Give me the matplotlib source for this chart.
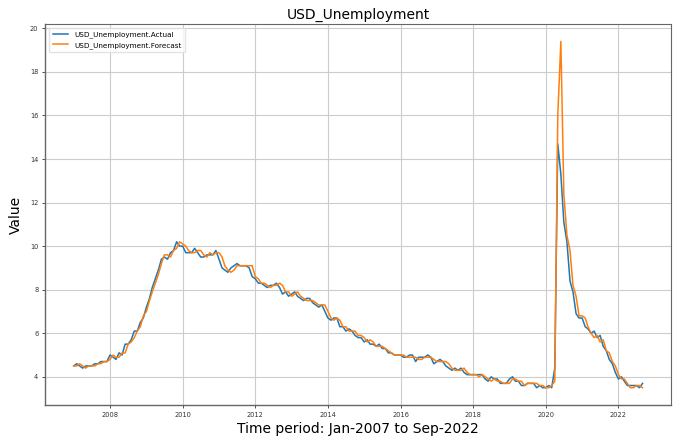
import matplotlib
matplotlib.use("Agg")
import matplotlib.pyplot as plt
import pandas as pd

# Monthly release dates, Jan 2007 .. Sep 2022
dates = pd.date_range("2007-01-01", "2022-09-01", freq="MS")

actual = [
    4.5, 4.6, 4.5, 4.4, 4.5, 4.5, 4.5, 4.6, 4.6, 4.7, 4.7, 4.7,       # 2007
    5.0, 4.9, 4.8, 5.1, 5.0, 5.5, 5.5, 5.7, 6.1, 6.1, 6.5, 6.7,       # 2008
    7.2, 7.6, 8.1, 8.5, 8.9, 9.4, 9.5, 9.4, 9.7, 9.8, 10.2, 10.0,     # 2009
    10.0, 9.7, 9.7, 9.7, 9.9, 9.7, 9.5, 9.5, 9.6, 9.6, 9.6, 9.8,      # 2010
    9.4, 9.0, 8.9, 8.8, 9.0, 9.1, 9.2, 9.1, 9.1, 9.1, 9.0, 8.6,       # 2011
    8.5, 8.3, 8.3, 8.2, 8.1, 8.2, 8.2, 8.3, 8.1, 7.8, 7.9, 7.7,       # 2012
    7.8, 7.9, 7.7, 7.6, 7.5, 7.6, 7.6, 7.4, 7.3, 7.2, 7.3, 7.0,       # 2013
    6.7, 6.6, 6.7, 6.7, 6.3, 6.3, 6.1, 6.2, 6.1, 5.9, 5.8, 5.8,       # 2014
    5.6, 5.7, 5.5, 5.5, 5.4, 5.5, 5.3, 5.3, 5.1, 5.1, 5.0, 5.0,       # 2015
    5.0, 4.9, 4.9, 5.0, 5.0, 4.7, 4.9, 4.9, 4.9, 5.0, 4.9, 4.6,       # 2016
    4.7, 4.8, 4.7, 4.5, 4.4, 4.3, 4.4, 4.3, 4.4, 4.2, 4.1, 4.1,       # 2017
    4.1, 4.1, 4.1, 4.1, 3.9, 3.8, 4.0, 3.9, 3.9, 3.7, 3.7, 3.7,       # 2018
    3.9, 4.0, 3.8, 3.8, 3.6, 3.6, 3.7, 3.7, 3.7, 3.5, 3.6, 3.5,       # 2019
    3.5, 3.6, 3.5, 4.4, 14.7, 13.3, 11.1, 10.2, 8.4, 7.9, 6.9, 6.7,   # 2020
    6.7, 6.3, 6.2, 6.0, 6.1, 5.8, 5.9, 5.4, 5.2, 4.8, 4.6, 4.2,       # 2021
    3.9, 4.0, 3.8, 3.6, 3.6, 3.6, 3.6, 3.5, 3.7,                      # 2022
]

forecast = [
    4.5, 4.5, 4.6, 4.5, 4.4, 4.5, 4.5, 4.5, 4.6, 4.6, 4.7, 4.7,       # 2007
    4.8, 5.0, 4.9, 4.9, 5.1, 5.1, 5.5, 5.6, 5.8, 6.1, 6.3, 6.8,       # 2008
    7.0, 7.5, 7.9, 8.3, 8.7, 9.2, 9.6, 9.6, 9.5, 9.8, 9.9, 10.2,      # 2009
    10.1, 10.0, 9.8, 9.7, 9.7, 9.8, 9.8, 9.6, 9.5, 9.7, 9.6, 9.7,     # 2010
    9.7, 9.5, 9.1, 8.9, 8.8, 8.9, 9.1, 9.1, 9.1, 9.1, 9.1, 9.1,       # 2011
    8.6, 8.5, 8.3, 8.3, 8.2, 8.1, 8.2, 8.2, 8.3, 8.2, 7.9, 7.9,       # 2012
    7.7, 7.8, 7.9, 7.7, 7.6, 7.5, 7.5, 7.5, 7.4, 7.3, 7.3, 7.3,       # 2013
    7.0, 6.7, 6.6, 6.7, 6.6, 6.3, 6.3, 6.1, 6.1, 6.1, 5.9, 5.9,       # 2014
    5.8, 5.6, 5.7, 5.6, 5.4, 5.4, 5.4, 5.3, 5.2, 5.1, 5.0, 5.0,       # 2015
    5.0, 5.0, 4.9, 4.9, 4.9, 4.9, 4.8, 4.8, 4.9, 4.9, 4.9, 4.8,       # 2016
    4.7, 4.7, 4.7, 4.7, 4.6, 4.4, 4.3, 4.3, 4.3, 4.4, 4.2, 4.1,       # 2017
    4.1, 4.1, 4.0, 4.1, 4.0, 3.9, 3.8, 3.9, 3.8, 3.8, 3.7, 3.7,       # 2018
    3.7, 3.9, 3.9, 3.8, 3.8, 3.6, 3.7, 3.7, 3.7, 3.7, 3.6, 3.6,       # 2019
    3.5, 3.5, 3.6, 3.8, 16.0, 19.4, 12.4, 10.5, 9.8, 8.2, 7.7, 6.8,   # 2020
    6.8, 6.7, 6.3, 6.0, 5.8, 5.9, 5.6, 5.7, 5.2, 5.1, 4.7, 4.5,       # 2021
    4.1, 3.9, 3.9, 3.7, 3.5, 3.5, 3.6, 3.6, 3.5,                      # 2022
]

title = "USD_Unemployment"
series_names = ["USD_Unemployment.Actual", "USD_Unemployment.Forecast"]

fig = plt.figure(figsize=(6.78, 4.38), dpi=100)
ax = fig.add_axes([0.0668, 0.0753, 0.9229, 0.8697])

ax.plot(dates, actual, color="#1f77b4", lw=1.1, label=series_names[0])
ax.plot(dates, forecast, color="#ff7f0e", lw=1.1, label=series_names[1])

ax.set_yticks(range(4, 21, 2))
ax.grid(True, color="#cccccc", lw=0.8)
ax.tick_params(labelsize=4.8, colors="#333333", length=2.5, width=0.6, pad=2.5)
for side, sp in ax.spines.items():
    sp.set_color("#666666")
    sp.set_linewidth(1.0 if side in ("left", "bottom") else 0.8)

ax.set_title(title, fontsize=10, pad=4)
ax.set_xlabel("Time period: Jan-2007 to Sep-2022", fontsize=10, labelpad=3)
ax.set_ylabel("Value", fontsize=10, labelpad=5)

ax.legend(loc="upper left", fontsize=5.2, frameon=True, framealpha=0.8,
          edgecolor="#dddddd", borderpad=0.5, handlelength=2.2)

fig.savefig("out.png", dpi=100)
